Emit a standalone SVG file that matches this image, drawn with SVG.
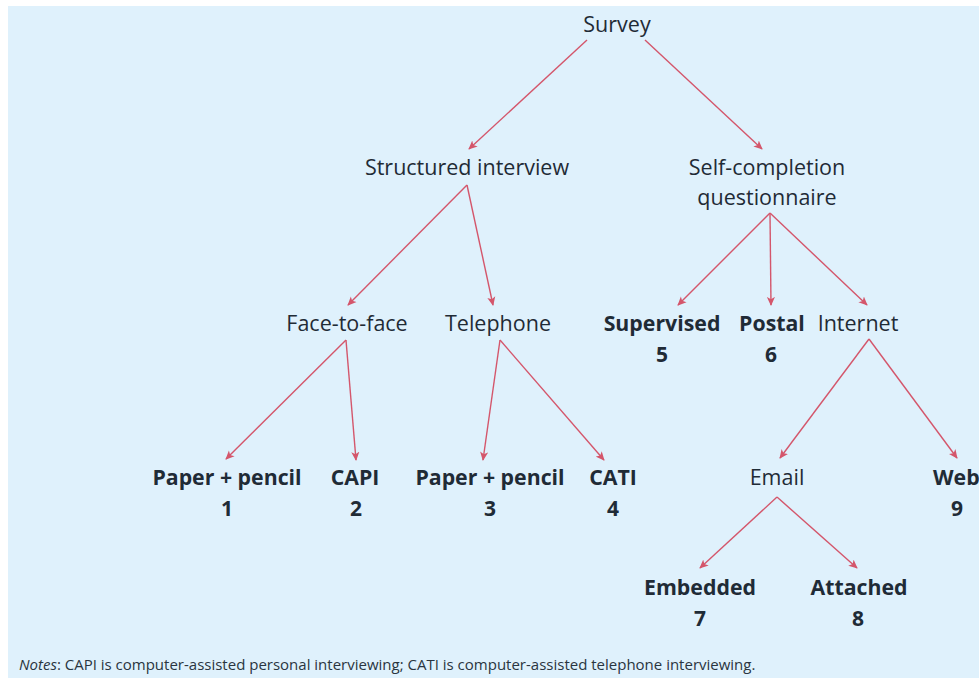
<svg xmlns="http://www.w3.org/2000/svg" width="979" height="678" viewBox="0 0 979 678">
  <style>
    text { font-family: "Open Sans", "Noto Sans", "Liberation Sans", sans-serif; fill: #1f2b36; text-anchor: middle; }
    .lbl { font-size: 21.5px; }
    .key { font-size: 21.3px; font-weight: 700; }
    .num { font-size: 21px; font-weight: 700; }
    .note { font-size: 15px; text-anchor: start; fill: #2a3540; }
    .edge { stroke: #d4566b; stroke-width: 1.4; fill: none; marker-end: url(#head); }
  </style>
  <defs>
    <marker id="head" viewBox="0 0 10 10" refX="9" refY="5" markerWidth="9" markerHeight="9" markerUnits="userSpaceOnUse" orient="auto">
      <path d="M0,0.5 L10,5 L0,9.5 L2.5,5 Z" fill="#d4566b"/>
    </marker>
  </defs>

  <!-- light blue panel behind the tree -->
  <rect x="8" y="6" width="971" height="672" fill="#dff1fc"/>

  <g id="connectors">
    <line class="edge" x1="587" y1="40" x2="469" y2="149"/>
    <line class="edge" x1="645" y1="40" x2="762" y2="149"/>
    <line class="edge" x1="467" y1="185" x2="348" y2="305"/>
    <line class="edge" x1="467" y1="185" x2="493" y2="305"/>
    <line class="edge" x1="770" y1="213" x2="678" y2="305"/>
    <line class="edge" x1="770" y1="213" x2="771" y2="305"/>
    <line class="edge" x1="770" y1="213" x2="867" y2="305"/>
    <line class="edge" x1="346" y1="340" x2="226" y2="459"/>
    <line class="edge" x1="346" y1="340" x2="356" y2="460"/>
    <line class="edge" x1="500" y1="340" x2="483" y2="460"/>
    <line class="edge" x1="500" y1="340" x2="604" y2="460"/>
    <line class="edge" x1="869" y1="339" x2="780" y2="458"/>
    <line class="edge" x1="869" y1="339" x2="957" y2="458"/>
    <line class="edge" x1="777" y1="497" x2="700" y2="568"/>
    <line class="edge" x1="777" y1="497" x2="857" y2="568"/>
  </g>

  <g id="survey"><text class="lbl" x="617" y="32">Survey</text></g>
  <g id="structured-interview"><text class="lbl" x="467" y="175">Structured interview</text></g>
  <g id="self-completion"><text class="lbl" x="767" y="175">Self-completion</text><text class="lbl" x="767" y="205">questionnaire</text></g>
  <g id="face-to-face"><text class="lbl" x="347" y="331">Face-to-face</text></g>
  <g id="telephone"><text class="lbl" x="498" y="331">Telephone</text></g>
  <g id="supervised"><text class="key" x="662" y="331">Supervised</text><text class="num" x="662" y="362">5</text></g>
  <g id="postal"><text class="key" x="772" y="331">Postal</text><text class="num" x="771" y="362">6</text></g>
  <g id="internet"><text class="lbl" x="858" y="331">Internet</text></g>
  <g id="paper-pencil-1"><text class="key" x="227" y="485">Paper + pencil</text><text class="num" x="227" y="516">1</text></g>
  <g id="capi"><text class="key" x="355" y="485">CAPI</text><text class="num" x="356" y="516">2</text></g>
  <g id="paper-pencil-3"><text class="key" x="490" y="485">Paper + pencil</text><text class="num" x="490" y="516">3</text></g>
  <g id="cati"><text class="key" x="613" y="485">CATI</text><text class="num" x="613" y="516">4</text></g>
  <g id="email"><text class="lbl" x="777" y="485">Email</text></g>
  <g id="web"><text class="key" x="933" y="485" style="text-anchor:start">Web</text><text class="num" x="957" y="516">9</text></g>
  <g id="embedded"><text class="key" x="700" y="595">Embedded</text><text class="num" x="700" y="626">7</text></g>
  <g id="attached"><text class="key" x="859" y="595">Attached</text><text class="num" x="858" y="626">8</text></g>

  <g id="notes">
    <text class="note" x="19" y="670"><tspan font-style="italic">Notes</tspan>: CAPI is computer-assisted personal interviewing; CATI is computer-assisted telephone interviewing.</text>
  </g>
</svg>
